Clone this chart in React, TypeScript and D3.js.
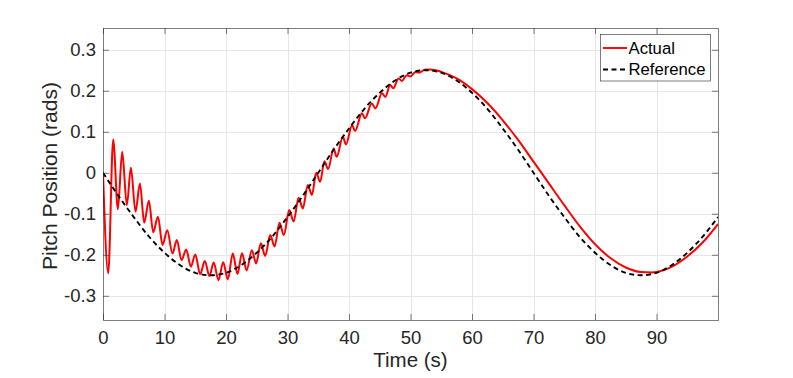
import React, { useEffect, useRef } from 'react';
import * as d3 from 'd3';

// tick values / labels
const xTicks = [0, 10, 20, 30, 40, 50, 60, 70, 80, 90];
const yTicks = [-0.3, -0.2, -0.1, 0, 0.1, 0.2, 0.3];
const yTickLabels = ['-0.3', '-0.2', '-0.1', '0', '0.1', '0.2', '0.3'];

// reference trajectory (dashed)
const refTime = [0, 2.5, 5, 7.5, 10, 12.5, 15, 17.5, 20, 22.5, 25, 27.5, 30, 32.5, 35, 37.5, 40, 42.5, 45, 47.5,
  50, 52.5, 55, 57.5, 60, 62.5, 65, 67.5, 70, 72.5, 75, 77.5, 80, 82.5, 85, 87.5, 90, 92.5, 95, 97.5, 100];
const refPitch = [0, -0.056, -0.108, -0.156, -0.195, -0.225, -0.244, -0.25, -0.244, -0.225, -0.195, -0.156, -0.108, -0.056,
  0, 0.056, 0.108, 0.156, 0.195, 0.225, 0.244, 0.25, 0.244, 0.225, 0.195, 0.156, 0.108, 0.056, 0,
  -0.056, -0.108, -0.156, -0.195, -0.225, -0.244, -0.25, -0.244, -0.225, -0.195, -0.156, -0.108];

// actual response (red), peaks and troughs
const actualTime = [0, 0.85, 1.66, 2.42, 3.12, 3.88, 4.53, 5.29, 6.0, 6.7, 7.46, 8.16, 8.93, 9.68, 10.45, 11.3, 12.0, 12.77,
  13.53, 14.29, 15.0, 15.8, 16.56, 17.3, 18.0, 18.78, 19.54, 20.3, 21.1, 21.87, 22.6, 23.35, 24.2, 24.9, 25.67, 26.37,
  27.19, 27.9, 28.7, 29.4, 30.28, 31.0, 31.8, 32.5, 33.3, 33.97, 34.67, 35.3, 36.0, 36.6, 37.5, 38.0, 39.0, 39.5, 40.5,
  41.0, 42.1, 42.6, 43.7, 44.3, 45.35, 45.9, 46.7, 47.2, 48.05, 48.6, 49.4, 50.0, 50.8, 51.4, 52.3, 53.3, 55, 57.5,
  60, 62.5, 65, 67.5, 70, 72.5, 75, 77.5, 80, 82.5, 85, 87.5, 89.3, 90, 92.5, 95, 97.5, 100];
const actualPitch = [0, -0.245, 0.081, -0.089, 0.051, -0.079, 0.012, -0.095, -0.026, -0.122, -0.068, -0.145, -0.107, -0.176,
  -0.14, -0.197, -0.164, -0.213, -0.187, -0.229, -0.199, -0.247, -0.215, -0.252, -0.219, -0.262, -0.218, -0.26, -0.197,
  -0.247, -0.196, -0.238, -0.189, -0.221, -0.172, -0.203, -0.152, -0.18, -0.122, -0.152, -0.091, -0.119, -0.061, -0.087,
  -0.03, -0.054, 0.0, -0.022, 0.028, 0.009, 0.059, 0.039, 0.088, 0.069, 0.116, 0.102, 0.145, 0.133, 0.169, 0.157, 0.194,
  0.185, 0.214, 0.206, 0.23, 0.224, 0.238, 0.235, 0.246, 0.244, 0.251, 0.252, 0.246, 0.23,
  0.204, 0.17, 0.128, 0.08, 0.027, -0.026, -0.079, -0.13, -0.174, -0.208, -0.231, -0.242, -0.243, -0.242, -0.229, -0.204,
  -0.17, -0.125];

const FONT = '"Liberation Sans", Arial, Helvetica, sans-serif';
const AX = '#262626';

const App = () => {
  const svgRef = useRef<SVGSVGElement>(null);

  useEffect(() => {
    const width = 793;
    const height = 378;
    const margin = { top: 28, right: 75, bottom: 58, left: 103 };

    const svg = d3.select(svgRef.current);
    svg.selectAll('*').remove();
    svg.attr('width', width).attr('height', height);

    svg.append('rect').attr('width', width).attr('height', height).attr('fill', '#fff');

    const x = d3.scaleLinear().domain([0, 100]).range([margin.left, width - margin.right]);
    const y = d3.scaleLinear().domain([-0.359, 0.353]).range([height - margin.bottom, margin.top]);

    // grid
    const grid = svg.append('g').attr('stroke', '#e6e6e6').attr('stroke-width', 1);
    grid.selectAll('.gx')
      .data(xTicks.slice(1))
      .enter().append('line')
      .attr('x1', d => Math.round(x(d)) + 0.5).attr('x2', d => Math.round(x(d)) + 0.5)
      .attr('y1', margin.top).attr('y2', height - margin.bottom);
    grid.selectAll('.gy')
      .data(yTicks)
      .enter().append('line')
      .attr('x1', margin.left).attr('x2', width - margin.right)
      .attr('y1', d => Math.round(y(d)) + 0.5).attr('y2', d => Math.round(y(d)) + 0.5);

    // clip
    svg.append('clipPath').attr('id', 'plot-clip')
      .append('rect')
      .attr('x', margin.left).attr('y', margin.top)
      .attr('width', width - margin.left - margin.right)
      .attr('height', height - margin.top - margin.bottom);

    const refData = refTime.map((t, i) => [t, refPitch[i]] as [number, number]);
    const actData = actualTime.map((t, i) => [t, actualPitch[i]] as [number, number]);

    const line = d3.line<[number, number]>()
      .x(d => x(d[0]))
      .y(d => y(d[1]))
      .curve(d3.curveMonotoneX);

    const plot = svg.append('g').attr('clip-path', 'url(#plot-clip)');
    plot.append('path')
      .datum(actData)
      .attr('d', line)
      .attr('fill', 'none')
      .attr('stroke', '#ff0000')
      .attr('stroke-width', 2)
      .attr('stroke-linejoin', 'round');
    plot.append('path')
      .datum(refData)
      .attr('d', line)
      .attr('fill', 'none')
      .attr('stroke', '#000')
      .attr('stroke-width', 1.9)
      .attr('stroke-dasharray', '5,3.5');

    // axes, MATLAB style ticks pointing inward
    const bottom = svg.append('g')
      .attr('transform', `translate(0,${height - margin.bottom})`)
      .call(d3.axisBottom(x).tickValues(xTicks).tickSizeInner(-6).tickSizeOuter(0).tickPadding(11).tickFormat(d => String(d)));
    const top = svg.append('g')
      .attr('transform', `translate(0,${margin.top})`)
      .call(d3.axisTop(x).tickValues(xTicks).tickSizeInner(-6).tickSizeOuter(0).tickFormat(() => ''));
    const left = svg.append('g')
      .attr('transform', `translate(${margin.left},0)`)
      .call(d3.axisLeft(y).tickValues(yTicks).tickSizeInner(-6).tickSizeOuter(0).tickPadding(7)
        .tickFormat((d, i) => yTickLabels[i]));
    const right = svg.append('g')
      .attr('transform', `translate(${width - margin.right},0)`)
      .call(d3.axisRight(y).tickValues(yTicks).tickSizeInner(-6).tickSizeOuter(0).tickFormat(() => ''));

    [bottom, top, left, right].forEach(g => {
      g.select('.domain').attr('stroke', AX).attr('stroke-width', 0.6);
      g.selectAll('.tick line').attr('stroke', AX).attr('stroke-width', 0.6);
      g.selectAll('text')
        .attr('fill', AX)
        .style('font-family', FONT)
        .style('font-size', '18.5px');
    });

    // axis labels
    svg.append('text')
      .attr('x', (margin.left + width - margin.right) / 2)
      .attr('y', 367)
      .attr('text-anchor', 'middle')
      .attr('fill', AX)
      .style('font-family', FONT)
      .style('font-size', '20.5px')
      .text('Time (s)');

    svg.append('text')
      .attr('transform', 'rotate(-90)')
      .attr('x', -(margin.top + height - margin.bottom) / 2 - 2)
      .attr('y', 57)
      .attr('text-anchor', 'middle')
      .attr('fill', AX)
      .style('font-family', FONT)
      .style('font-size', '21px')
      .text('Pitch Position (rads)');

    // legend
    const legend = svg.append('g');
    legend.append('rect')
      .attr('x', 600.5).attr('y', 34.5)
      .attr('width', 110).attr('height', 46.5)
      .attr('fill', '#fff')
      .attr('stroke', AX)
      .attr('stroke-width', 0.6);
    const items = [
      { label: 'Actual', color: '#ff0000', dash: null, yy: 48 },
      { label: 'Reference', color: '#000', dash: '5,3.5', yy: 69.5 },
    ];
    items.forEach(it => {
      legend.append('line')
        .attr('x1', 603).attr('x2', 627)
        .attr('y1', it.yy).attr('y2', it.yy)
        .attr('stroke', it.color)
        .attr('stroke-width', 1.9)
        .attr('stroke-dasharray', it.dash);
      legend.append('text')
        .attr('x', 628.5).attr('y', it.yy)
        .attr('dy', '0.35em')
        .attr('fill', '#000')
        .style('font-family', FONT)
        .style('font-size', '16.7px')
        .text(it.label);
    });
  }, []);

  return (
    <svg ref={svgRef} style={{ position: 'absolute', left: 0, top: 0, display: 'block' }}></svg>
  );
};

export default App;
